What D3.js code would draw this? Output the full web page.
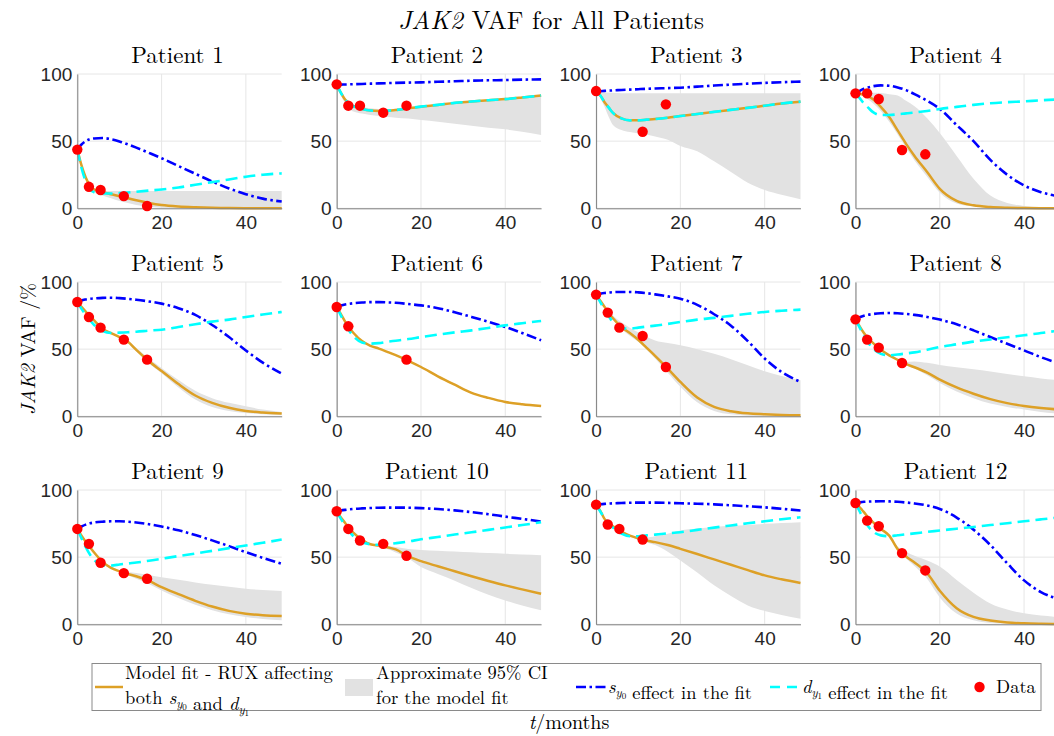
<!DOCTYPE html>
<html><head><meta charset="utf-8">
<script src="https://cdn.jsdelivr.net/npm/d3@7/dist/d3.min.js"></script>
<style>
body{margin:0;background:#fff;}
svg{display:block;}
</style></head>
<body>
<svg id="chart" width="1054" height="736"></svg>
<script>
// ---------------- DATA ----------------
const patients = ["Patient 1","Patient 2","Patient 3","Patient 4","Patient 5","Patient 6",
  "Patient 7","Patient 8","Patient 9","Patient 10","Patient 11","Patient 12"];
const xTicks = [0, 20, 40];
const yTicks = [0, 50, 100];
// model time grid (months)
const tGrid = [0,1,2,3,4,6,8,10,12,14,17,20,24,28,32,36,40,44,48.5];
// measurement times (months)
const dataT = [0, 2.76, 5.52, 11.04, 16.56];

// Model fit - RUX affecting both s_y0 and d_y1
const fitCurves = [
  [44,32,23,17,14,12,10.5,9,7.5,6,4,2.5,1.4,0.8,0.4,0.2,0.1,0.05,0],
  [92,86,81,78,76,74,72.8,72.5,72.7,73.2,74.5,75.7,77,78.5,79.5,80.5,81.3,82.5,84],
  [87,84,79,75,71,67,65.5,65.5,66,66.5,67.5,68.7,70.2,71.8,73.3,74.8,76.4,78,79.4],
  [85.6,85.3,84.5,83.5,81.5,75.5,68,58,48,39,27,14.5,5.5,2.2,0.9,0.4,0.2,0.1,0],
  [85,81.5,78,74.5,71.5,65,62,59,55.5,49.5,41,33.7,24,15.5,10,6.3,4,2.8,2],
  [81.4,76,70.5,66,62,56,52.5,50.4,48,45.5,41.3,36.7,29.8,23.5,17.5,13.7,10.7,9,7.7],
  [90.6,86,81.5,77,73,66.5,62,57,51,45,35.5,25.6,14,7,3.8,2.2,1.5,1,0.7],
  [72.2,67,62,58,55,49.5,45.4,42,38.8,36.5,32.5,27.3,21.5,16.8,12.8,9.8,7.7,6.2,5],
  [71,66,61.5,57.5,53.5,46.5,42,39.5,37.5,35.8,32.3,27.7,22.5,17.5,13.2,10,7.9,6.8,6.2],
  [84,79.5,75.5,71.5,68,63,59.6,58.6,57.4,55.8,50.5,47,43.2,39.5,35.8,32.3,29,26,22.8],
  [89,84.5,78.5,75.5,73,69,66,64,62.4,61.2,59,56.2,52.3,48.3,44.3,40.3,36.4,33.5,30.7],
  [90.3,87,83.5,79.5,76.5,71,66,56,50.5,46,38,25,12,5.5,2.8,1.3,0.7,0.4,0.2]
];
// s_y0 effect in the fit
const syEffect = [
  [44,47.5,50,51.5,52,52.3,51.5,49.8,47.6,45.2,41.3,37.3,31.5,25.7,20,14.8,10.5,7.2,5],
  [92,92.1,92.2,92.3,92.4,92.6,92.8,93,93.2,93.4,93.6,93.8,94.2,94.6,95,95.3,95.5,95.8,96],
  [87,87.2,87.4,87.6,87.8,88.1,88.4,88.7,89,89.2,89.5,89.8,90.6,91.4,92.1,92.8,93.4,93.9,94.3],
  [85.6,87.5,89,90,90.8,91.5,91.2,90,88,85,80,74,62,50,36,25,17,12,8.7],
  [85,86.3,87,87.5,87.8,88.2,88.3,88,87.5,86.8,85.5,83.9,80.5,75.5,68,59,49,40,31.8],
  [81.4,82.5,83.3,83.8,84.2,84.7,85,85,84.8,84.5,83.6,82.6,80.5,77.5,74,70.3,66.5,62,56.6],
  [90.6,91.3,91.8,92.1,92.4,92.6,92.6,92.3,91.7,90.8,89.3,87.6,83,76,67.5,56,43,33,25.6],
  [72.2,73.8,74.9,75.6,76.1,76.7,76.9,76.7,76.2,75.5,74,72,68.5,64,59,54,49.1,44,39.2],
  [71,72.8,74.2,75.2,75.8,76.4,76.7,76.7,76.4,75.8,74.5,72.8,70,66.5,62.5,58.2,53.7,49.5,45],
  [84,84.7,85.2,85.6,85.9,86.3,86.6,86.8,86.9,86.9,86.8,86.5,85.8,84.8,83.5,82,80.2,78.5,76.5],
  [89,89.4,89.7,89.9,90.1,90.3,90.5,90.6,90.6,90.6,90.4,90.1,89.8,89.3,88.6,87.9,87.1,86,84.7],
  [90.3,90.8,91.2,91.4,91.5,91.6,91.5,91.2,90.7,90,88.5,85.9,79.5,70.5,59,45.4,32.7,24,18.5]
];
// d_y1 effect in the fit
const dyEffect = [
  [44,30,20,14,12,11,11,11.3,11.8,12.3,13.2,14,15.5,17.5,19.5,21.5,23.5,25,26],
  [92,86,81,78,76,74,72.8,72.5,72.7,73.2,74.5,75.7,77,78.5,79.5,80.5,81.3,82.5,84],
  [87,84,79,75,71,67,65.5,65.5,66,66.5,67.5,68.7,70.2,71.8,73.3,74.8,76.4,78,79.4],
  [85.6,82,78,75,72,69.5,69.5,70,70.7,71.3,72.5,74,75.5,77,78.2,79,79.6,80.4,81.1],
  [85,80,75.5,71.5,68,63.5,62,62.3,62.6,63,63.8,64.5,66.5,68.5,70.5,72,73.9,75.8,77.7],
  [81.4,75,68.5,63.5,59.5,55,54.1,54.5,55.5,56.3,57.5,59,60.8,62.5,64,65.8,67.7,69.3,71],
  [90.6,85,79.5,74.5,70,65.5,65.3,66,66.8,67.5,68.8,70.2,72,73.3,74.8,76.3,77.7,78.6,79.4],
  [72.2,66,60,55,51,46.5,45.4,46,46.8,47.6,49.5,51.6,53.6,55.6,57.3,58.8,60.3,62,64],
  [71,64,57.5,52,48,44,43.8,44.5,45.3,46,47.3,48.8,50.8,52.7,54.7,56.7,58.7,60.7,63.1],
  [84,78.5,73.5,69,65.5,61.2,59.6,59.2,59.6,60.4,61.7,63.3,65,66.8,68.5,70.3,72.1,73.9,76],
  [89,84,79,75,72,67.5,65.6,65.6,66.2,66.8,67.7,68.6,70.3,72,73.6,75.2,76.7,78.2,79.7],
  [90.3,84,78,73,69.5,66.2,65.6,66.3,67,67.7,68.8,69.8,71.2,72.5,73.9,75.3,76.7,78.1,79.7]
];
// Approximate 95% CI for the model fit (lower / upper)
const ciLower = [
  [44,30,21,15,12,9.5,7.5,5.5,4,2.5,1.2,0.5,0.2,0.1,0,0,0,0,0],
  [92,84,78,74,72,70.5,69.5,68.7,68,67.5,66.8,65.8,64.5,63,61.5,60,58.8,57,54.6],
  [87,82,75.7,68,62,58.3,56.8,55.8,54.8,53.5,51,46.4,42.5,35,27,19,13.6,10,6.7],
  [85.6,84.5,83,81,78.5,72.5,64.5,55,45,35.5,23.5,11.5,3.5,1.2,0.4,0.1,0,0,0],
  [85,81.5,78,74.5,71.5,64.5,61.5,58.5,55,48.5,39.5,32,21.5,12.5,7,4,2.5,1.5,1],
  [81.4,75.5,70,65.5,61.5,55.5,52,49.9,47.5,45,40.8,36.2,29.3,23,17,13.2,10.2,8.5,7.2],
  [90.6,85.5,81,76,72,65,60,55.5,49.5,43,32.5,22,10.5,4,1.5,0.5,0.2,0.1,0],
  [72.2,67,62,58,55,49,45,41.5,38,35.5,30.5,24.8,18.5,13.5,9.5,7,5,3.2,2],
  [71,66,61.5,57.5,53.5,46,41.5,39,36.5,34,30,25.2,19.5,14.5,10.5,7.5,5.4,4,3],
  [84,79.5,75.5,71.5,68,62.7,59,57.8,56,53.5,49,42.6,37.5,32.5,27,22,17.8,14,10.4],
  [89,84,78,75,72.5,68.5,65.5,63,61,59,54,47.5,38.5,29,21,14,9.9,7,4.2],
  [90.3,87,83.5,79.5,76.5,70.5,65.5,55,49,43.5,34,20,8,3,1,0.4,0.1,0,0]
];
const ciUpper = [
  [44,32,23,17,14.5,13,12.8,12.8,12.8,12.8,12.8,12.8,12.8,12.8,12.8,12.8,12.8,12.8,12.8],
  [92,87,82,79,77,75.5,74.5,74,74,74.2,75,76,77.2,78.6,79.6,80.6,81.4,82.6,84],
  [87,86.8,86.5,86.2,86,85.7,85.6,85.6,85.6,85.6,85.6,85.6,85.6,85.6,85.6,85.6,85.6,85.6,85.6],
  [85.6,86,86,86,86,85.8,85,84,80,76,67,56,39,22,9.5,4,1.8,0.9,0.5],
  [85,81.5,78,74.5,71.5,65.5,62.5,59.5,56.2,51,43,36,27,19,13.5,10,7.5,5,3.2],
  [81.4,76.5,71,66.5,62.5,56.5,53,50.9,48.5,46,41.8,37.2,30.3,24,18,14.2,11.2,9.5,8.2],
  [90.6,87,83,79,75,70,66,62.5,59,56.5,54.5,52.9,50,46.5,42.5,38,33.5,30,26.8],
  [72.2,67,62,58,55,50,46,43,40.5,40.8,39.8,38.2,36.6,35,33.3,31.5,29.8,28.2,26.8],
  [71,66,61.5,57.5,53.5,47,43,40.5,39,38.2,36.8,35.1,33.2,31.2,29.5,28,26.5,25.5,24.8],
  [84,79.5,75.5,71.5,68,63.3,60.2,59.5,58.5,57.5,56,55.4,54.8,54.2,53.6,53,52.5,52,51.5],
  [89,85,79,76,73.5,69.5,66.5,65,64.6,65.5,67.5,69.8,71.3,72.4,73.3,74,74.8,75.4,76],
  [90.3,87,83.5,79.5,76.5,71.5,66.5,58,54,51,47.5,43,33,23.5,15.5,11,8.2,6.5,5.4]
];
// measured JAK2 VAF (%) at dataT; null = no measurement
const dataVAF = [
  [43.7,16,13.6,9.1,1.7],
  [92.3,76.4,76.4,71.2,76.4],
  [87.3,null,null,57,77.4],
  [85.6,85.6,81.4,43.4,40.2],
  [85.1,73.9,66,57.1,42.2],
  [81.4,67,null,null,42.2],
  [90.6,77.2,66,59.8,36.7],
  [72.2,57.1,51.1,39.7,null],
  [71,59.9,45.8,38.1,33.9],
  [84.2,71,62.4,59.9,51],
  [89.1,74.3,71,63.1,null],
  [90.3,77.2,73,53,40.1]
];

// ---------------- STYLE / LAYOUT ----------------
const C = {fit:"#DDA026", sy:"#0000FF", dy:"#00FFFF", data:"#FF0000", ci:"#E2E2E2",
           grid:"#E6E6E6", axis:"#7f7f7f", text:"#262626"};
const W = 204.4, H = 134.3;
const colLeft = d3.range(4).map(i => 77.3 + 259.4*i);
const rowTop = d3.range(3).map(i => 74 + 208*i);
const SERIF = '"Latin Modern Roman","Liberation Serif",serif';
const SANS = '"Liberation Sans",Arial,sans-serif';

const svg = d3.select("#chart");
const x = d3.scaleLinear().domain([0, 48.5]).range([0, W]);
const y = d3.scaleLinear().domain([0, 100]).range([H, 0]);

svg.append("clipPath").attr("id","clip").append("rect")
  .attr("x",0).attr("y",-2).attr("width",W+1).attr("height",H+4);

patients.forEach((name, p) => {
  const r = Math.floor(p/4), c = p%4;
  const g = svg.append("g").attr("transform",`translate(${colLeft[c]},${rowTop[r]})`);
  // grid
  g.append("g").selectAll("line").data(xTicks).join("line")
    .attr("x1",d=>x(d)).attr("x2",d=>x(d)).attr("y1",0).attr("y2",H)
    .attr("stroke",C.grid).attr("stroke-width",1);
  g.append("g").selectAll("line").data(yTicks).join("line")
    .attr("x1",0).attr("x2",W).attr("y1",d=>y(d)).attr("y2",d=>y(d))
    .attr("stroke",C.grid).attr("stroke-width",1);

  const plot = g.append("g").attr("clip-path","url(#clip)");
  const band = tGrid.map((t,i)=>({t, lo:ciLower[p][i], hi:ciUpper[p][i]}));
  plot.append("path").datum(band)
    .attr("d", d3.area().curve(d3.curveMonotoneX).x(d=>x(d.t)).y0(d=>y(d.lo)).y1(d=>y(d.hi)))
    .attr("fill",C.ci).attr("stroke","none");
  const line = d3.line().curve(d3.curveMonotoneX).x(d=>x(d[0])).y(d=>y(d[1]));
  plot.append("path").datum(tGrid.map((t,i)=>[t,fitCurves[p][i]]))
    .attr("d",line).attr("fill","none").attr("stroke",C.fit).attr("stroke-width",2.5);
  plot.append("path").datum(tGrid.map((t,i)=>[t,syEffect[p][i]]))
    .attr("d",line).attr("fill","none").attr("stroke",C.sy).attr("stroke-width",2.6)
    .attr("stroke-dasharray","10,3.5,2.5,3.5");
  plot.append("path").datum(tGrid.map((t,i)=>[t,dyEffect[p][i]]))
    .attr("d",line).attr("fill","none").attr("stroke",C.dy).attr("stroke-width",2.6)
    .attr("stroke-dasharray","12,6");

  // axes
  const ax = g.append("g").attr("transform",`translate(0,${H})`)
    .call(d3.axisBottom(x).tickValues(xTicks).tickSize(0).tickPadding(7).tickFormat(d3.format("d")));
  const ay = g.append("g")
    .call(d3.axisLeft(y).tickValues(yTicks).tickSize(0).tickPadding(5).tickFormat(d3.format("d")));
  [ax, ay].forEach(a => {
    a.select(".domain").attr("stroke",C.axis).attr("stroke-width",1);
    a.selectAll(".tick text").style("font-family",SANS).attr("font-size",19).attr("fill",C.text);
  });

  // data points
  g.append("g").selectAll("circle")
    .data(dataT.map((t,i)=>[t,dataVAF[p][i]]).filter(d=>d[1]!==null))
    .join("circle").attr("cx",d=>x(d[0])).attr("cy",d=>y(d[1])).attr("r",5.2)
    .attr("fill",C.data);

  g.append("text").style("font-family",SERIF).attr("x",W/2 - 2).attr("y",-11).attr("text-anchor","middle")
    .attr("font-size",23).attr("fill","#000").text(name);
});

// main title
const tt = svg.append("text").style("font-family",SERIF).attr("x",551).attr("y",29).attr("text-anchor","middle")
  .attr("font-size",25.5).attr("fill","#000");
tt.append("tspan").attr("font-style","italic").text("JAK2");
tt.append("tspan").text(" VAF for All Patients");

// y label
const yl = svg.append("text").style("font-family",SERIF).attr("transform","translate(35,349) rotate(-90)")
  .attr("text-anchor","middle").attr("font-size",20).attr("fill","#000");
yl.append("tspan").attr("font-style","italic").text("JAK2");
yl.append("tspan").text(" VAF /%");

// x label
const xl = svg.append("text").style("font-family",SERIF).attr("x",569).attr("y",729).attr("text-anchor","middle")
  .attr("font-size",20).attr("fill","#000");
xl.append("tspan").attr("font-style","italic").text("t");
xl.append("tspan").text("/months");

// legend
const lg = svg.append("g");
lg.append("rect").attr("x",92).attr("y",663.5).attr("width",949).attr("height",47)
  .attr("fill","#fff").attr("stroke","#8a8a8a").attr("stroke-width",1);
const ly = 687;
const lfs = 18.5;
function ltext(xp, yp) {
  return lg.append("text").style("font-family",SERIF).attr("x",xp).attr("y",yp)
    .attr("font-size",lfs).attr("fill","#000");
}
function subVar(t, v, sub) {
  t.append("tspan").attr("font-style","italic").text(v);
  t.append("tspan").attr("font-style","italic").attr("font-size",12.5).attr("dy",4).text("y");
  t.append("tspan").attr("font-size",9).attr("dy",2).text(sub);
  t.append("tspan").attr("dy",-6).text("");
}
lg.append("line").attr("x1",95).attr("x2",123).attr("y1",ly).attr("y2",ly)
  .attr("stroke",C.fit).attr("stroke-width",2.5);
ltext(125,678.5).text("Model fit - RUX affecting");
const l2 = ltext(125,703.5);
l2.append("tspan").text("both ");
subVar(l2,"s","0");
l2.append("tspan").text(" and ");
subVar(l2,"d","1");

lg.append("rect").attr("x",345).attr("y",679).attr("width",28).attr("height",17).attr("fill",C.ci);
ltext(376,678.5).text("Approximate 95% CI");
ltext(376,703.5).text("for the model fit");

lg.append("line").attr("x1",576).attr("x2",606).attr("y1",ly).attr("y2",ly)
  .attr("stroke",C.sy).attr("stroke-width",2.6).attr("stroke-dasharray","10,3.5,2.5,3.5");
const l3 = ltext(608,693);
subVar(l3,"s","0");
l3.append("tspan").text(" effect in the fit");

lg.append("line").attr("x1",770).attr("x2",800).attr("y1",ly).attr("y2",ly)
  .attr("stroke",C.dy).attr("stroke-width",2.6).attr("stroke-dasharray","10,7");
const l4 = ltext(802,693);
subVar(l4,"d","1");
l4.append("tspan").text(" effect in the fit");

lg.append("circle").attr("cx",979.5).attr("cy",ly).attr("r",5.2).attr("fill",C.data);
ltext(996,693).text("Data");
</script>
</body></html>
